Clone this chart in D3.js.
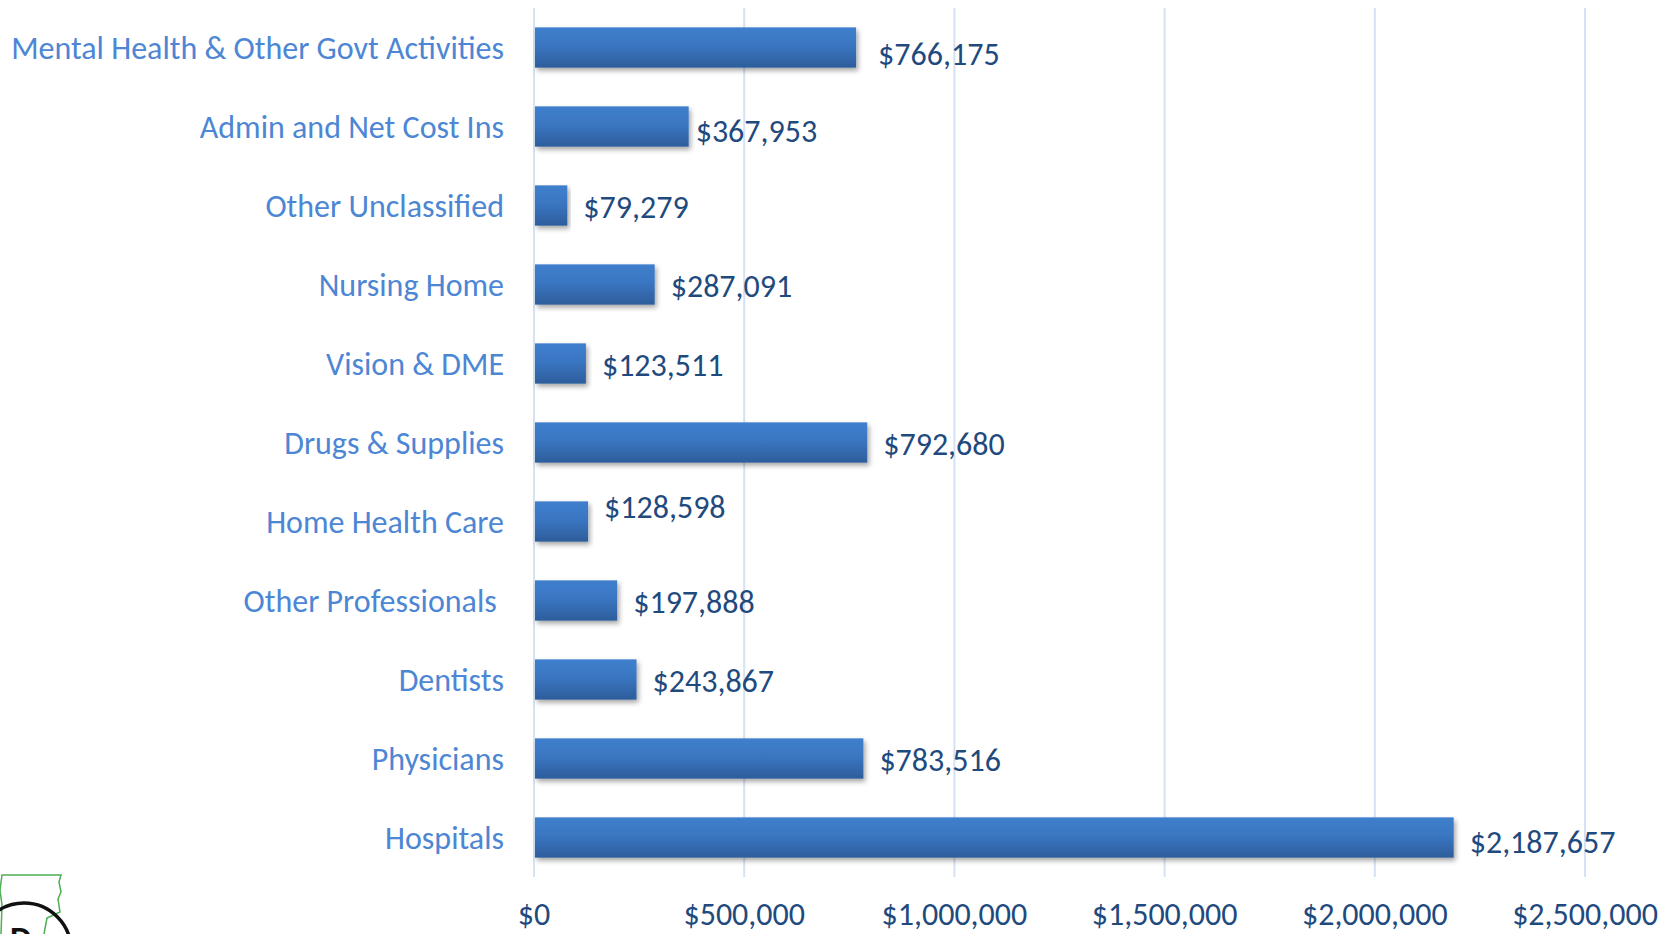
<!DOCTYPE html>
<html>
<head>
<meta charset="utf-8">
<script src="https://cdn.jsdelivr.net/npm/d3@7"></script>
<style>
  body { margin: 0; background: #fff; }
  svg { display: block; font-family: Carlito, Calibri, Lato, sans-serif; }
</style>
</head>
<body>
<div id="chart"></div>
<script>
// data (top of chart first)
const categories = [
    "Mental Health & Other Govt Activities",
    "Admin and Net Cost Ins",
    "Other Unclassified",
    "Nursing Home",
    "Vision & DME",
    "Drugs & Supplies",
    "Home Health Care",
    "Other Professionals ",
    "Dentists",
    "Physicians",
    "Hospitals"
];
const spending = [766175, 367953, 79279, 287091, 123511, 792680, 128598, 197888, 243867, 783516, 2187657];
const xTicks = [0, 500000, 1000000, 1500000, 2000000, 2500000];

const W = 1666, H = 934;
const margin = { top: 8, left: 534, right: 81, bottom: 57 };
const fontSize = 32;

const svg = d3.select("#chart").append("svg")
    .attr("width", W)
    .attr("height", H);

const defs = svg.append("defs");
const grad = defs.append("linearGradient")
    .attr("id", "barGrad")
    .attr("x1", 0).attr("y1", 0).attr("x2", 0).attr("y2", 1);
grad.append("stop").attr("offset", "0%").attr("stop-color", "#3f7fcd");
grad.append("stop").attr("offset", "45%").attr("stop-color", "#3a76c2");
grad.append("stop").attr("offset", "100%").attr("stop-color", "#2d5d9b");

const shadow = defs.append("filter").attr("id", "shadow")
    .attr("x", "-5%").attr("y", "-20%").attr("width", "115%").attr("height", "160%");
shadow.append("feDropShadow")
    .attr("dx", 2).attr("dy", 3)
    .attr("stdDeviation", 2.5)
    .attr("flood-color", "#000")
    .attr("flood-opacity", 0.35);

const x = d3.scaleLinear()
    .domain([0, 2500000])
    .range([margin.left, W - margin.right]);

const y = d3.scaleBand()
    .domain(categories)
    .range([margin.top, H - margin.bottom])
    .paddingInner(0.49)
    .paddingOuter(0.245);

const data = categories.map((c, i) => ({ cat: c, value: spending[i] }));

// gridlines
svg.append("g")
    .selectAll("line")
    .data(xTicks)
    .join("line")
    .attr("x1", d => x(d)).attr("x2", d => x(d))
    .attr("y1", margin.top).attr("y2", H - margin.bottom)
    .attr("stroke", "#d5e2f3")
    .attr("stroke-width", 2);

// bars
svg.append("g")
    .selectAll("rect")
    .data(data)
    .join("rect")
    .attr("x", x(0) + 1)
    .attr("y", d => y(d.cat))
    .attr("width", d => x(d.value) - x(0) - 1)
    .attr("height", y.bandwidth())
    .attr("fill", "url(#barGrad)")
    .attr("filter", "url(#shadow)");

// category labels
svg.append("g")
    .selectAll("text")
    .data(data)
    .join("text")
    .attr("x", 504)
    .attr("y", d => y(d.cat) + y.bandwidth() / 2)
    .attr("dy", "0.35em")
    .attr("text-anchor", "end")
    .style("white-space", "pre")
    .attr("font-size", fontSize)
    .attr("fill", "#4d86d4")
    .text(d => d.cat);

// value labels, some got nudged in the original
const nudge = {
    "Mental Health & Other Govt Activities": [6, 6],
    "Admin and Net Cost Ins": [-9, 4],
    "Home Health Care": [0, -15],
    "Hospitals": [0, 4]
};
const fmt = d3.format("$,");
svg.append("g")
    .selectAll("text")
    .data(data)
    .join("text")
    .attr("x", d => x(d.value) + 16 + (nudge[d.cat] ? nudge[d.cat][0] : 0))
    .attr("y", d => y(d.cat) + y.bandwidth() / 2 + (nudge[d.cat] ? nudge[d.cat][1] : 1))
    .attr("dy", "0.35em")
    .attr("font-size", fontSize)
    .attr("fill", "#1f4a7e")
    .text(d => fmt(d.value));

// x axis labels
svg.append("g")
    .selectAll("text")
    .data(xTicks)
    .join("text")
    .attr("x", d => x(d))
    .attr("y", 925)
    .attr("text-anchor", "middle")
    .attr("font-size", fontSize)
    .attr("fill", "#1f4a7e")
    .text(d => fmt(d));

// cropped logo in the bottom-left corner
const logo = svg.append("g");
logo.append("path")
    .attr("d", "M1,934 L2,905 L0,890 L2,875 L61,875 L59,882 L61,892 L58,899 L60,912 L47,918 L44,934")
    .attr("fill", "none")
    .attr("stroke", "#4caf50")
    .attr("stroke-width", 1.5);
logo.append("circle")
    .attr("cx", 24).attr("cy", 950).attr("r", 47)
    .attr("fill", "none")
    .attr("stroke", "#111")
    .attr("stroke-width", 3.5);
logo.append("text")
    .attr("x", 10).attr("y", 950)
    .attr("font-size", 34)
    .attr("font-weight", "bold")
    .attr("fill", "#111")
    .text("D");
</script>
</body>
</html>
